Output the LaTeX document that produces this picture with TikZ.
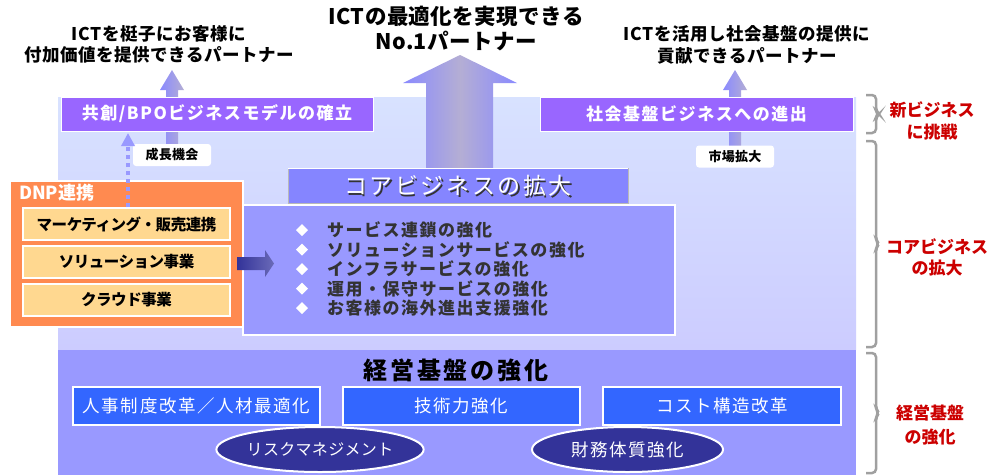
\documentclass[tikz,border=0pt]{standalone}
\usepackage{fontspec}
\setmainfont{Noto Sans CJK JP}
\usetikzlibrary{shapes.geometric,arrows.meta}
\definecolor{bgtop}{HTML}{D8E2FF}
\definecolor{bgbot}{HTML}{CCCCFF}
\definecolor{lowreg}{HTML}{9999FF}
\definecolor{purp}{HTML}{9966FF}
\definecolor{corebl}{HTML}{8585FF}
\definecolor{mainbx}{HTML}{9999FF}
\definecolor{orng}{HTML}{FF8A50}
\definecolor{peach}{HTML}{FFD890}
\definecolor{bluebx}{HTML}{3366FF}
\definecolor{navy}{HTML}{333399}
\definecolor{lblred}{HTML}{CC0000}
\definecolor{brk}{HTML}{A0A0A0}
\definecolor{dtxt}{HTML}{333333}
\definecolor{arrL}{HTML}{8A8AFF}
\definecolor{arrM}{HTML}{B4AED4}
\definecolor{arrW}{HTML}{D0D0F0}
\definecolor{arrR}{HTML}{6A6AB8}
\newcommand{\fsz}[2]{\fontsize{#1}{#2}\selectfont}
\newcommand{\lsp}[1]{\addfontfeature{LetterSpace=#1}}
\tikzset{
  every node/.style={inner sep=0pt, outer sep=0pt},
  pbox/.style={fill=purp, draw=white, line width=1pt, minimum width=312pt, minimum height=34pt, text=white, font=\bfseries\fsz{17}{18}\lsp{9}},
  tagbox/.style={fill=white, rounded corners=3pt, minimum width=78pt, minimum height=22pt, font=\bfseries\fsz{13}{14}\lsp{2}},
  subbox/.style={fill=peach, draw=white, line width=2.5pt, minimum width=207pt, minimum height=32pt, font=\bfseries\fsz{15.5}{18}\lsp{-3}},
  bullet/.style={diamond, fill=white, minimum width=12pt, minimum height=12pt},
  btext/.style={anchor=west, text=dtxt, font=\bfseries\fsz{17}{18}\lsp{9}},
  bbox/.style={fill=bluebx, draw=white, line width=2pt, minimum height=38pt, text=white, font=\fsz{17.5}{18}\lsp{9}},
  oval/.style={ellipse, fill=navy, draw=white, line width=2pt, minimum width=192pt, minimum height=45pt, text=white, font=\fsz{16}{18}\lsp{2}},
  redlbl/.style={text=lblred, align=center, font=\bfseries\fsz{17}{22}},
  bracket/.style={draw=brk, line width=2.5pt, rounded corners=4pt},
  toptext/.style={align=center, font=\bfseries\fsz{17.5}{21}\lsp{3}},
}
\begin{document}
\begin{tikzpicture}[x=1pt,y=-1pt]
\useasboundingbox (0,0) rectangle (992,475);
\fill[white] (0,0) rectangle (992,475);

% regions
\node[minimum width=798pt, minimum height=252pt, top color=bgtop, bottom color=bgbot] (lightreg) at (457,223) {};
\node[minimum width=798pt, minimum height=125pt, fill=lowreg] (lowerreg) at (457,412.5) {};

% big arrow
\path[left color=arrL, right color=arrL, middle color=arrM]
  (426,168) -- (426,83) -- (403,83) -- (460,55) -- (517,83) -- (493,83) -- (493,168) -- cycle;

% small arrows
\path[left color=arrL, right color=arrM]
  (166,145) -- (166,90) -- (160,90) -- (172,70) -- (184,90) -- (178,90) -- (178,145) -- cycle;
\path[left color=arrL, right color=arrM]
  (729,147) -- (729,90) -- (723,90) -- (735,70) -- (747,90) -- (741,90) -- (741,147) -- cycle;

% purple boxes
\node[pbox] (pb1) at (217,114) {共創/BPOビジネスモデルの確立};
\node[pbox, minimum width=313pt] (pb2) at (696.5,114) {社会基盤ビジネスへの進出};

% tags
\node[tagbox] (tag1) at (172,155) {成長機会};
\node[tagbox] (tag2) at (735,156.5) {市場拡大};

% core title box
\node[fill=corebl, draw=gray!55, line width=1pt, minimum width=340pt, minimum height=35pt] (corebox) at (458,185.5) {};
\draw[white, line width=1pt] (corebox.north west) -- (corebox.north east);
\node[text=gray!40!black, font=\fsz{23}{24}\lsp{11}] (coreshadow) at (459.5,187.5) {コアビジネスの拡大};
\node[text=white, font=\fsz{23}{24}\lsp{11}] (coretitle) at (458,186) {コアビジネスの拡大};

% main box
\node[fill=mainbx, draw=white, line width=2pt, minimum width=432pt, minimum height=130pt] (mainbox) at (459,270) {};
\node[bullet] (d1) at (302,230) {};
\node[bullet] (d2) at (302,249.5) {};
\node[bullet] (d3) at (302,269) {};
\node[bullet] (d4) at (302,288.5) {};
\node[bullet] (d5) at (302,308) {};
\node[btext] (t1) at (327,230) {サービス連鎖の強化};
\node[btext] (t2) at (327,249.5) {ソリューションサービスの強化};
\node[btext] (t3) at (327,269) {インフラサービスの強化};
\node[btext] (t4) at (327,288.5) {運用・保守サービスの強化};
\node[btext] (t5) at (327,308) {お客様の海外進出支援強化};

% DNP box
\node[fill=orng, draw=white, line width=1.5pt, minimum width=233pt, minimum height=146pt] (dnp) at (126.5,254) {};
\node[anchor=west, text=white, font=\bfseries\fsz{18}{18}] (dnptitle) at (19,193) {DNP連携};
\node[subbox] (s1) at (126.5,224) {マーケティング・販売連携};
\node[subbox] (s2) at (126.5,262) {ソリューション事業};
\node[subbox] (s3) at (126.5,300) {クラウド事業};

% gradient arrow DNP -> main
\path[left color=navy, middle color=arrW, right color=arrR]
  (237,257) -- (265,257) -- (265,250) -- (274,263.5) -- (265,277) -- (265,270) -- (237,270) -- cycle;

% dotted arrow
\coordinate (dotstart) at (128,207);
\coordinate (dotend) at (128,133);
\draw[lowreg, line width=4pt, dash pattern=on 4pt off 4pt, -{Triangle[width=13pt,length=13pt]}] (dotstart) -- (dotend);

% lower section
\node[font=\bfseries\fsz{24}{24}\lsp{12}] (lowtitle) at (456,370) {経営基盤の強化};
\node[bbox, minimum width=247pt] (b1) at (196.5,406) {人事制度改革／人材最適化};
\node[bbox, minimum width=237pt] (b2) at (461.5,406) {技術力強化};
\node[bbox, minimum width=238pt] (b3) at (722,406) {コスト構造改革};
\node[oval, minimum width=193pt] (o1) at (320,449.5) {リスクマネジメント};
\node[oval, minimum width=191pt, font=\fsz{17.5}{18}\lsp{9}] (o2) at (627.5,449.5) {財務体質強化};

% brackets
\draw[bracket] (866,95) -- (876,95) -- (876,111) -- (879,114) -- (876,117) -- (876,133) -- (866,133);
\draw[bracket] (866,141) -- (876,141) -- (876,240) -- (879,244) -- (876,248) -- (876,347) -- (866,347);
\draw[bracket] (866,353) -- (876,353) -- (876,409) -- (879,413) -- (876,417) -- (876,473) -- (866,473);
\node[redlbl] (r1) at (932,121) {新ビジネス\\に挑戦};
\node[redlbl, font=\bfseries\fsz{17}{21}] (r2) at (937,257.5) {コアビジネス\\の拡大};
\node[redlbl, font=\bfseries\fsz{17}{24}] (r3) at (930,425) {経営基盤\\の強化};

% top texts
\node[toptext] (top1) at (159,44.5) {ICTを梃子にお客様に\\付加価値を提供できるパートナー};
\node[toptext, font=\bfseries\fsz{21.5}{25}\lsp{2}] (top2) at (456,28.5) {ICTの最適化を実現できる\\No.1パートナー};
\node[toptext, font=\bfseries\fsz{17.5}{22}\lsp{3}] (top3) at (747,45) {ICTを活用し社会基盤の提供に\\貢献できるパートナー};
\end{tikzpicture}
\end{document}
